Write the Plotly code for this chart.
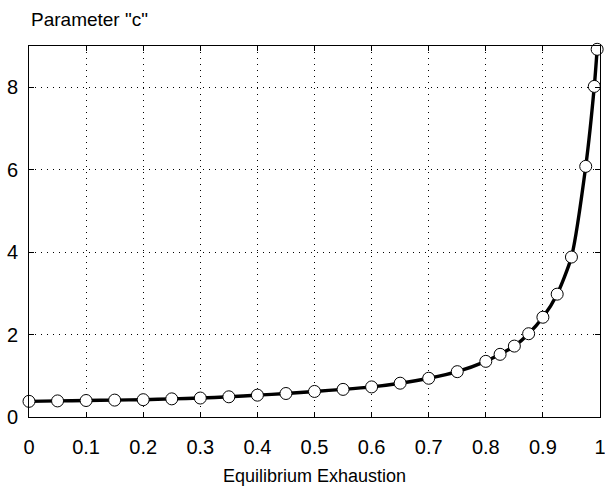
import plotly.graph_objects as go

exhaustion = [0.0, 0.05, 0.1, 0.15, 0.2, 0.25, 0.3, 0.35, 0.4, 0.45, 0.5, 0.55, 0.6, 0.65,
              0.7, 0.75, 0.8, 0.825, 0.85, 0.875, 0.9, 0.925, 0.95, 0.975, 0.99, 0.995]
param_c = [0.38, 0.39, 0.40, 0.41, 0.42, 0.44, 0.46, 0.49, 0.53, 0.57, 0.62, 0.67, 0.73, 0.82,
           0.94, 1.10, 1.35, 1.52, 1.72, 2.02, 2.42, 2.98, 3.88, 6.08, 8.02, 8.92]
x_ticks = [0, 0.1, 0.2, 0.3, 0.4, 0.5, 0.6, 0.7, 0.8, 0.9, 1]
x_tick_labels = ["0", "0.1", "0.2", "0.3", "0.4", "0.5", "0.6", "0.7", "0.8", "0.9", "1"]
y_ticks = [0, 2, 4, 6, 8]
y_tick_labels = ["0", "2", "4", "6", "8"]

font = "Liberation Sans, Arial, sans-serif"

fig = go.Figure()
fig.add_trace(go.Scatter(
    x=exhaustion, y=param_c, mode="lines",
    line=dict(color="black", width=3.4, shape="spline", smoothing=0.6),
    hoverinfo="skip", showlegend=False))
fig.add_trace(go.Scatter(
    x=exhaustion, y=param_c, mode="markers", cliponaxis=False,
    marker=dict(symbol="circle", size=12, color="white", line=dict(color="black", width=1)),
    showlegend=False))

axis_common = dict(
    showline=True, linecolor="black", linewidth=1, mirror="ticks",
    ticks="inside", ticklen=5, tickcolor="black", automargin=False,
    ticklabeloverflow="allow",
    showgrid=True, gridcolor="black", gridwidth=1, griddash="1px,5px",
    zeroline=False, tickfont=dict(family=font, size=20, color="black"),
)

fig.update_layout(
    width=605, height=487,
    margin=dict(l=29, r=5, t=46, b=70),
    plot_bgcolor="white", paper_bgcolor="white",
    xaxis=dict(range=[0, 1], tickvals=x_ticks, ticktext=x_tick_labels, ticklabelstandoff=12,
               title=dict(text="Equilibrium Exhaustion", font=dict(family=font, size=18, color="black"), standoff=12),
               **axis_common),
    yaxis=dict(range=[0, 9], tickvals=y_ticks, ticktext=y_tick_labels, ticklabelstandoff=6,
               **axis_common),
    annotations=[dict(text='Parameter "c"', x=0, y=1, xref="paper", yref="paper",
                      xanchor="left", yanchor="bottom", yshift=14, showarrow=False,
                      font=dict(family=font, size=19, color="black"))],
)

fig.write_html(
    "out.html",
    config={"displayModeBar": False},
    post_script="document.body.style.margin='0';document.body.style.overflow='hidden';",
)
